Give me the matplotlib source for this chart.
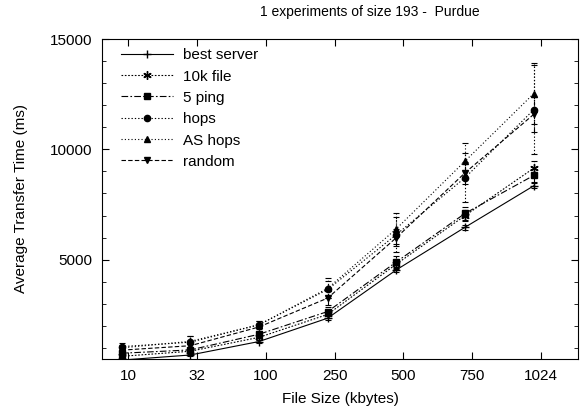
import numpy as np
import matplotlib.pyplot as plt

plt.rcParams['font.family'] = ['Liberation Sans', 'DejaVu Sans']

# file sizes (kbytes), plotted as evenly spaced categories
sizes = ["10", "32", "100", "250", "500", "750", "1024"]

# average transfer time (ms) per method
best_server = [450, 680, 1290, 2350, 4540, 6470, 8350]
file_10k = [620, 850, 1480, 2520, 4800, 7000, 9150]
ping_5 = [760, 910, 1620, 2650, 4900, 7100, 8820]
hops = [1060, 1260, 2050, 3650, 6140, 8720, 11800]
as_hops = [1000, 1300, 2050, 3700, 6400, 9470, 12530]
random_sel = [900, 1100, 1950, 3260, 6000, 8940, 11590]

# error bar half-widths (ms)
best_server_err = [30, 40, 60, 80, 100, 120, 120]
file_10k_err = [80, 100, 120, 150, 200, 250, 300]
ping_5_err = [100, 150, 150, 200, 250, 300, 300]
hops_err = [150, 300, 150, 400, 800, 1100, 2000]
as_hops_err = [150, 250, 150, 450, 700, 800, 1400]
random_err = [100, 150, 100, 300, 400, 500, 800]

series = [
    ("best server", best_server, best_server_err, "-", "+", 6),
    ("10k file", file_10k, file_10k_err, (0, (1.5, 1.5)), (6, 2, 0), 6),
    ("5 ping", ping_5, ping_5_err, (0, (6, 2, 1.5, 2)), "s", 5),
    ("hops", hops, hops_err, (0, (1.2, 1.8)), "o", 4.5),
    ("AS hops", as_hops, as_hops_err, (0, (1, 2)), "^", 4),
    ("random", random_sel, random_err, (0, (4, 2)), "v", 4),
]

fig = plt.figure(figsize=(5.8, 4.15), dpi=100)
ax = fig.add_axes([0.176, 0.135, 0.8206, 0.771])

x = np.arange(len(sizes)) - 0.1
lines = []
labels = []
for label, vals, errs, ls, mk, ms in series:
    eb = ax.errorbar(x, vals, yerr=errs, color="black", linestyle=ls, linewidth=0.8,
                     marker=mk, markersize=ms, capsize=2.5, elinewidth=0.8,
                     capthick=0.8)
    eb[2][0].set_linestyle(ls)
    lines.append(eb[0])
    labels.append(label)

ax.set_xlim(-0.383, len(sizes) - 1 + 0.543)
ax.set_ylim(500, 15000)
ax.set_xticks(np.arange(len(sizes)))
ax.set_xticklabels(sizes)
ax.set_yticks([5000, 10000, 15000])
ax.set_yticks(np.arange(1000, 15000, 1000), minor=True)
ax.tick_params(axis="both", which="both", direction="in", top=True, right=True,
               labelsize=11, pad=7)
ax.tick_params(axis="both", which="major", length=5)
ax.tick_params(axis="y", which="minor", length=3)
ax.tick_params(axis="x", which="minor", bottom=False, top=False)

ax.set_xlabel("File Size (kbytes)", fontsize=11, labelpad=7)
ax.set_ylabel("Average Transfer Time (ms)", fontsize=11, labelpad=16)
fig.text(0.638, 0.971, "1 experiments of size 193 -  Purdue", ha="center", va="center",
         fontsize=10)

ax.legend(lines, labels, loc="upper left", frameon=False, fontsize=11,
          handlelength=3.4, handletextpad=0.7, labelspacing=0.48,
          borderaxespad=0.2, bbox_to_anchor=(0.02, 1.0))

fig.savefig("out.png", dpi=100)
